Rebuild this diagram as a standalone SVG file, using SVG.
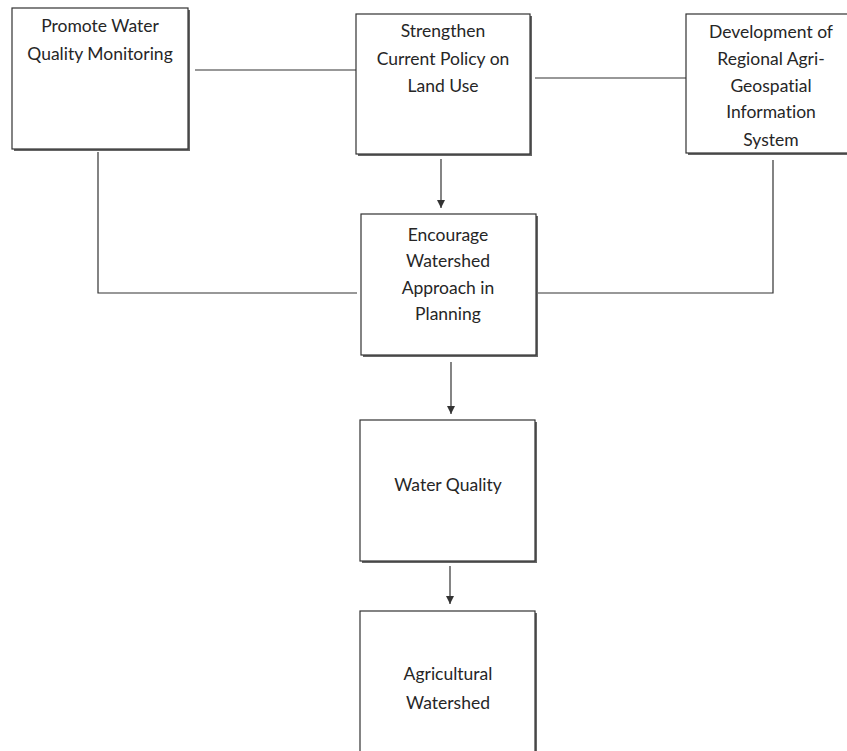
<svg xmlns="http://www.w3.org/2000/svg" width="847" height="751" viewBox="0 0 847 751">
<style>
.box{fill:#fff;stroke:#333;stroke-width:1.2}
.sh{fill:#666}
.t{font-family:Lato,"Liberation Sans",sans-serif;font-size:17.5px;fill:#262626;text-anchor:middle;font-variant-ligatures:none}
.c{fill:none;stroke:#333;stroke-width:1.2}
</style>
<defs>
<marker id="ah" viewBox="0 0 10 10" refX="10" refY="5" markerWidth="8" markerHeight="8" orient="auto" markerUnits="userSpaceOnUse">
<path d="M0,0 L10,5 L0,10 z" fill="#333"/>
</marker>
</defs>
<rect width="847" height="751" fill="#fff"/>
<g id="connectors">
<line class="c" x1="195" y1="70" x2="356" y2="70"/>
<line class="c" x1="535" y1="78" x2="686" y2="78"/>
<polyline class="c" points="98,152 98,293 357,293"/>
<polyline class="c" points="773,160 773,293 537,293"/>
<line class="c" x1="441" y1="159" x2="441" y2="208" marker-end="url(#ah)"/>
<line class="c" x1="451" y1="362" x2="451" y2="414" marker-end="url(#ah)"/>
<line class="c" x1="450" y1="566" x2="450" y2="604" marker-end="url(#ah)"/>
</g>
<g id="n1">
<rect class="sh" x="14" y="10" width="176" height="141"/>
<rect class="box" x="12" y="8" width="176" height="141"/>
<text class="t" x="100" y="32">Promote Water</text>
<text class="t" x="100" y="60">Quality Monitoring</text>
</g>
<g id="n2">
<rect class="sh" x="358" y="16" width="174" height="140"/>
<rect class="box" x="356" y="14" width="174" height="140"/>
<text class="t" x="443" y="37">Strengthen</text>
<text class="t" x="443" y="65">Current Policy on</text>
<text class="t" x="443" y="92">Land Use</text>
</g>
<g id="n3">
<rect class="sh" x="688" y="16" width="162" height="139"/>
<rect class="box" x="686" y="14" width="162" height="139"/>
<text class="t" x="771" y="38">Development of</text>
<text class="t" x="771" y="65">Regional Agri-</text>
<text class="t" x="771" y="92">Geospatial</text>
<text class="t" x="771" y="118">Information</text>
<text class="t" x="771" y="146">System</text>
</g>
<g id="n4">
<rect class="sh" x="363" y="216" width="175" height="141"/>
<rect class="box" x="361" y="214" width="175" height="141"/>
<text class="t" x="448" y="241">Encourage</text>
<text class="t" x="448" y="267">Watershed</text>
<text class="t" x="448" y="294">Approach in</text>
<text class="t" x="448" y="320">Planning</text>
</g>
<g id="n5">
<rect class="sh" x="362" y="422" width="175" height="141"/>
<rect class="box" x="360" y="420" width="175" height="141"/>
<text class="t" x="448" y="491">Water Quality</text>
</g>
<g id="n6">
<rect class="sh" x="362" y="613" width="175" height="141"/>
<rect class="box" x="360" y="611" width="175" height="141"/>
<text class="t" x="448" y="680">Agricultural</text>
<text class="t" x="448" y="709">Watershed</text>
</g>
</svg>
